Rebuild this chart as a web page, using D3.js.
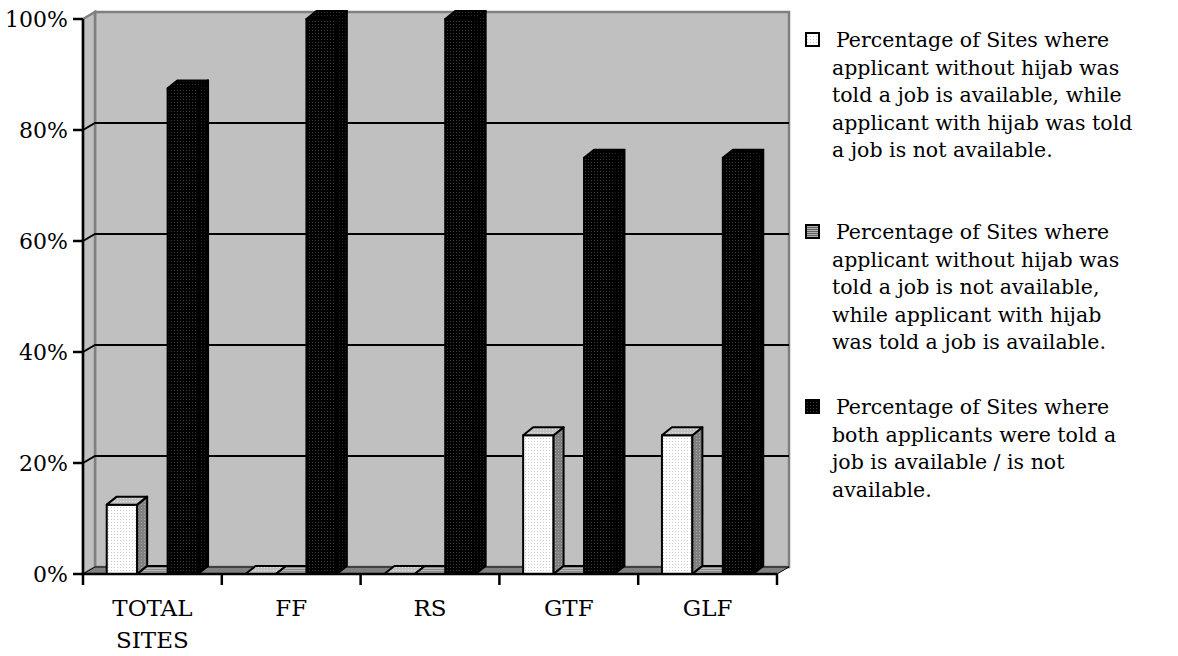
<!DOCTYPE html>
<html><head><meta charset="utf-8">
<script src="https://cdn.jsdelivr.net/npm/d3@7"></script>
<style>
body{margin:0;background:#fff}
svg text{font-family:"DejaVu Serif",serif;fill:#000}
</style>
</head><body>
<svg id="chart" width="1178" height="656"></svg>
<script>
// ---- data ----
const categories = ["TOTAL SITES", "FF", "RS", "GTF", "GLF"];
const categoryLines = [["TOTAL", "SITES"], ["FF"], ["RS"], ["GTF"], ["GLF"]];
const seriesKeys = ["s1", "s2", "s3"];
const seriesWithoutHijabYes = [12.5, 0, 0, 25, 25];
const seriesWithoutHijabNo = [0, 0, 0, 0, 0];
const seriesBoth = [87.5, 100, 100, 75, 75];
const yTickValues = [0, 20, 40, 60, 80, 100];
const yTickLabels = ["0%", "20%", "40%", "60%", "80%", "100%"];
const legendLines = [
  ["Percentage of Sites where", "applicant without hijab was", "told a job is available, while", "applicant with hijab was told", "a job is not available."],
  ["Percentage of Sites where", "applicant without hijab was", "told a job is not available,", "while applicant with hijab", "was told a job is available."],
  ["Percentage of Sites where", "both applicants were told a", "job is available / is not", "available."]
];

const seriesValues = [seriesWithoutHijabYes, seriesWithoutHijabNo, seriesBoth];

// ---- layout ----
const svg = d3.select("#chart");
const x = d3.scaleBand().domain(categories).range([83, 777]);
const xs = d3.scaleBand().domain(seriesKeys).range([0, x.bandwidth()]).paddingInner(0).paddingOuter(0.78);
const y = d3.scaleLinear().domain([0, 100]).range([574, 19]);
const WDX = 12, WDY = -7;   // wall depth offset
const BDX = 10, BDY = -8;   // bar depth offset

// ---- patterns ----
const defs = svg.append("defs");
function dotPattern(id, bg, dot, size) {
  const p = defs.append("pattern").attr("id", id).attr("patternUnits", "userSpaceOnUse")
    .attr("width", size).attr("height", size);
  p.append("rect").attr("width", size).attr("height", size).attr("fill", bg);
  p.append("rect").attr("width", 1).attr("height", 1).attr("fill", dot);
}
function stripePattern(id, bg, line) {
  const p = defs.append("pattern").attr("id", id).attr("patternUnits", "userSpaceOnUse")
    .attr("width", 4).attr("height", 2);
  p.append("rect").attr("width", 4).attr("height", 2).attr("fill", bg);
  p.append("rect").attr("width", 4).attr("height", 1).attr("fill", line);
}
dotPattern("wFront", "#ffffff", "#c8c8c8", 3);
dotPattern("wSide", "#808080", "#a8a8a8", 3);
dotPattern("wTop", "#c0c0c0", "#e0e0e0", 3);
stripePattern("gFront", "#606060", "#b0b0b0");
stripePattern("gSide", "#404040", "#808080");
stripePattern("gTop", "#8a8a8a", "#b8b8b8");
dotPattern("bFront", "#000000", "#3a3a3a", 3);
dotPattern("bSide", "#000000", "#262626", 3);
dotPattern("bTop", "#000000", "#303030", 3);
const fills = [
  {front: "url(#wFront)", side: "url(#wSide)", top: "url(#wTop)"},
  {front: "url(#gFront)", side: "url(#gSide)", top: "url(#gTop)"},
  {front: "url(#bFront)", side: "url(#bSide)", top: "url(#bTop)"}
];

const [x0, x1] = x.range();
const yTop = y(100), yBase = y(0);
const pts = a => a.map(p => p.join(",")).join(" ");

// ---- walls ----
svg.append("polygon").attr("points", pts([[x0 + WDX, yTop + WDY], [x1 + WDX, yTop + WDY], [x1 + WDX, yBase + WDY], [x0 + WDX, yBase + WDY]]))
  .attr("fill", "#c0c0c0").attr("stroke", "#808080").attr("stroke-width", 2.5);
svg.append("polygon").attr("points", pts([[x0, yTop], [x0 + WDX, yTop + WDY], [x0 + WDX, yBase + WDY], [x0, yBase]]))
  .attr("fill", "#c0c0c0").attr("stroke", "#808080").attr("stroke-width", 2.5);
svg.append("polygon").attr("points", pts([[x0, yBase], [x0 + WDX, yBase + WDY], [x1 + WDX, yBase + WDY], [x1, yBase]]))
  .attr("fill", "#808080").attr("stroke", "#000").attr("stroke-width", 1);

// gridlines
yTickValues.filter(v => v > 0 && v < 100).forEach(v => {
  svg.append("polyline").attr("points", pts([[x0, y(v)], [x0 + WDX, y(v) + WDY], [x1 + WDX, y(v) + WDY]]))
    .attr("fill", "none").attr("stroke", "#000").attr("stroke-width", 2);
});

// ---- bars ----
categories.forEach((c, ci) => {
  seriesKeys.forEach((k, si) => {
    const v = seriesValues[si][ci];
    const bx0 = x(c) + xs(k), bx1 = bx0 + xs.bandwidth();
    const by = y(v);
    const g = svg.append("g").attr("stroke", "#000").attr("stroke-width", 2).attr("stroke-linejoin", "round");
    if (v > 0) {
      g.append("polygon").attr("points", pts([[bx0, by], [bx1, by], [bx1, yBase], [bx0, yBase]])).attr("fill", fills[si].front);
      g.append("polygon").attr("points", pts([[bx1, by], [bx1 + BDX, by + BDY], [bx1 + BDX, yBase + BDY], [bx1, yBase]])).attr("fill", fills[si].side);
    }
    g.append("polygon").attr("points", pts([[bx0, by], [bx0 + BDX, by + BDY], [bx1 + BDX, by + BDY], [bx1, by]])).attr("fill", fills[si].top);
  });
});

// ---- axes ----
svg.append("line").attr("x1", x0).attr("x2", x0).attr("y1", yTop).attr("y2", yBase + 11)
  .attr("stroke", "#000").attr("stroke-width", 2.5);
svg.append("line").attr("x1", x0).attr("x2", x1).attr("y1", yBase).attr("y2", yBase)
  .attr("stroke", "#000").attr("stroke-width", 2.5);
yTickValues.forEach((v, i) => {
  svg.append("line").attr("x1", x0 - 10).attr("x2", x0).attr("y1", y(v)).attr("y2", y(v))
    .attr("stroke", "#000").attr("stroke-width", 2.5);
  svg.append("text").attr("x", 68).attr("y", y(v) + 8).attr("text-anchor", "end")
    .attr("font-size", 22).text(yTickLabels[i]);
});
categories.forEach((c, i) => {
  svg.append("line").attr("x1", x(c) + x.bandwidth()).attr("x2", x(c) + x.bandwidth())
    .attr("y1", yBase).attr("y2", yBase + 11).attr("stroke", "#000").attr("stroke-width", 2.5);
  const t = svg.append("text").attr("text-anchor", "middle").attr("font-size", 23);
  categoryLines[i].forEach((ln, li) => {
    t.append("tspan").attr("x", x(c) + x.bandwidth() / 2).attr("y", 616 + li * 32).text(ln);
  });
});

// ---- legend ----
const legendTop = [47, 239, 414];
legendLines.forEach((lines, li) => {
  const base = legendTop[li];
  svg.append("rect").attr("x", 806).attr("y", base - 14).attr("width", 13).attr("height", 13)
    .attr("fill", fills[li].front).attr("stroke", "#000").attr("stroke-width", 2);
  lines.forEach((ln, j) => {
    svg.append("text").attr("x", j === 0 ? 836 : 832).attr("y", base + j * 27.5)
      .attr("font-size", 20.5).text(ln);
  });
});
</script>
</body></html>
